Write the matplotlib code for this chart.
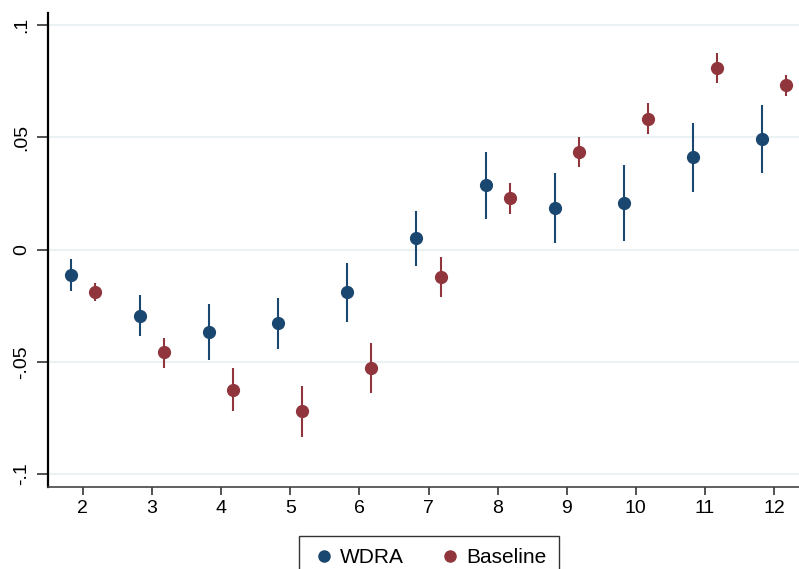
import numpy as np
import matplotlib.pyplot as plt
from matplotlib.lines import Line2D

plt.rcParams['font.family'] = ['Liberation Sans', 'DejaVu Sans']

# Datos
periodos = [2, 3, 4, 5, 6, 7, 8, 9, 10, 11, 12]

wdra = [-0.0114, -0.0295, -0.0369, -0.0329, -0.0188, 0.0051, 0.0286, 0.0184, 0.0207, 0.0411, 0.0494]
wdra_lo = [-0.0185, -0.0386, -0.0493, -0.0444, -0.0322, -0.0072, 0.0137, 0.0028, 0.0039, 0.0256, 0.0343]
wdra_hi = [-0.0044, -0.0203, -0.0245, -0.0218, -0.0059, 0.0170, 0.0436, 0.0343, 0.0376, 0.0566, 0.0646]

base = [-0.0188, -0.0459, -0.0625, -0.0720, -0.0530, -0.0124, 0.0228, 0.0434, 0.0583, 0.0810, 0.0732]
base_lo = [-0.0228, -0.0526, -0.0720, -0.0835, -0.0639, -0.0213, 0.0158, 0.0367, 0.0514, 0.0744, 0.0686]
base_hi = [-0.0148, -0.0393, -0.0526, -0.0607, -0.0417, -0.0035, 0.0295, 0.0500, 0.0652, 0.0876, 0.0777]

yticks = [-0.1, -0.05, 0, 0.05, 0.1]
ytick_labels = ['-.1', '-.05', '0', '.05', '.1']

azul = '#1a476f'
rojo = '#90353b'

fig = plt.figure(figsize=(7.99, 5.69), dpi=100)
ax = fig.add_axes([0.0605, 0.1436, 0.9395, 0.8341])

x = np.array(periodos)
desp = 0.175

for t, m, lo, hi, col in [(x - desp, wdra, wdra_lo, wdra_hi, azul),
                          (x + desp, base, base_lo, base_hi, rojo)]:
    ax.vlines(t, lo, hi, color=col, linewidth=1.5, zorder=2)
    ax.plot(t, m, 'o', color=col, markersize=8.5, zorder=3)

ax.set_xlim(1.5, 12.36)
ax.set_ylim(-0.106, 0.1056)
ax.set_xticks(periodos)
ax.set_yticks(yticks)
ax.set_yticklabels(ytick_labels, rotation=90, va='center')
ax.tick_params(axis='both', labelsize=14, length=6, width=1.2, color='#333333')
ax.tick_params(axis='y', length=8, pad=5)

ax.grid(axis='y', color='#eaf2f3', linewidth=1.5)
ax.set_axisbelow(True)
for s in ['top', 'right']:
    ax.spines[s].set_visible(False)
ax.spines['left'].set_linewidth(1.6)
ax.spines['left'].set_color('black')
ax.spines['bottom'].set_linewidth(1.2)
ax.spines['bottom'].set_color('#444444')

handles = [Line2D([], [], marker='o', linestyle='none', color=azul, markersize=8),
           Line2D([], [], marker='o', linestyle='none', color=rojo, markersize=8)]
leg = fig.legend(handles, ['WDRA', 'Baseline'], ncol=2, loc='upper center',
                 bbox_to_anchor=(0.537, 0.058), borderaxespad=0, fontsize=15,
                 frameon=True, fancybox=False, edgecolor='black',
                 handletextpad=0.2, handlelength=1.2, columnspacing=1.6,
                 borderpad=0.6)
leg.get_frame().set_linewidth(1.0)

fig.savefig('out.png', dpi=100)
